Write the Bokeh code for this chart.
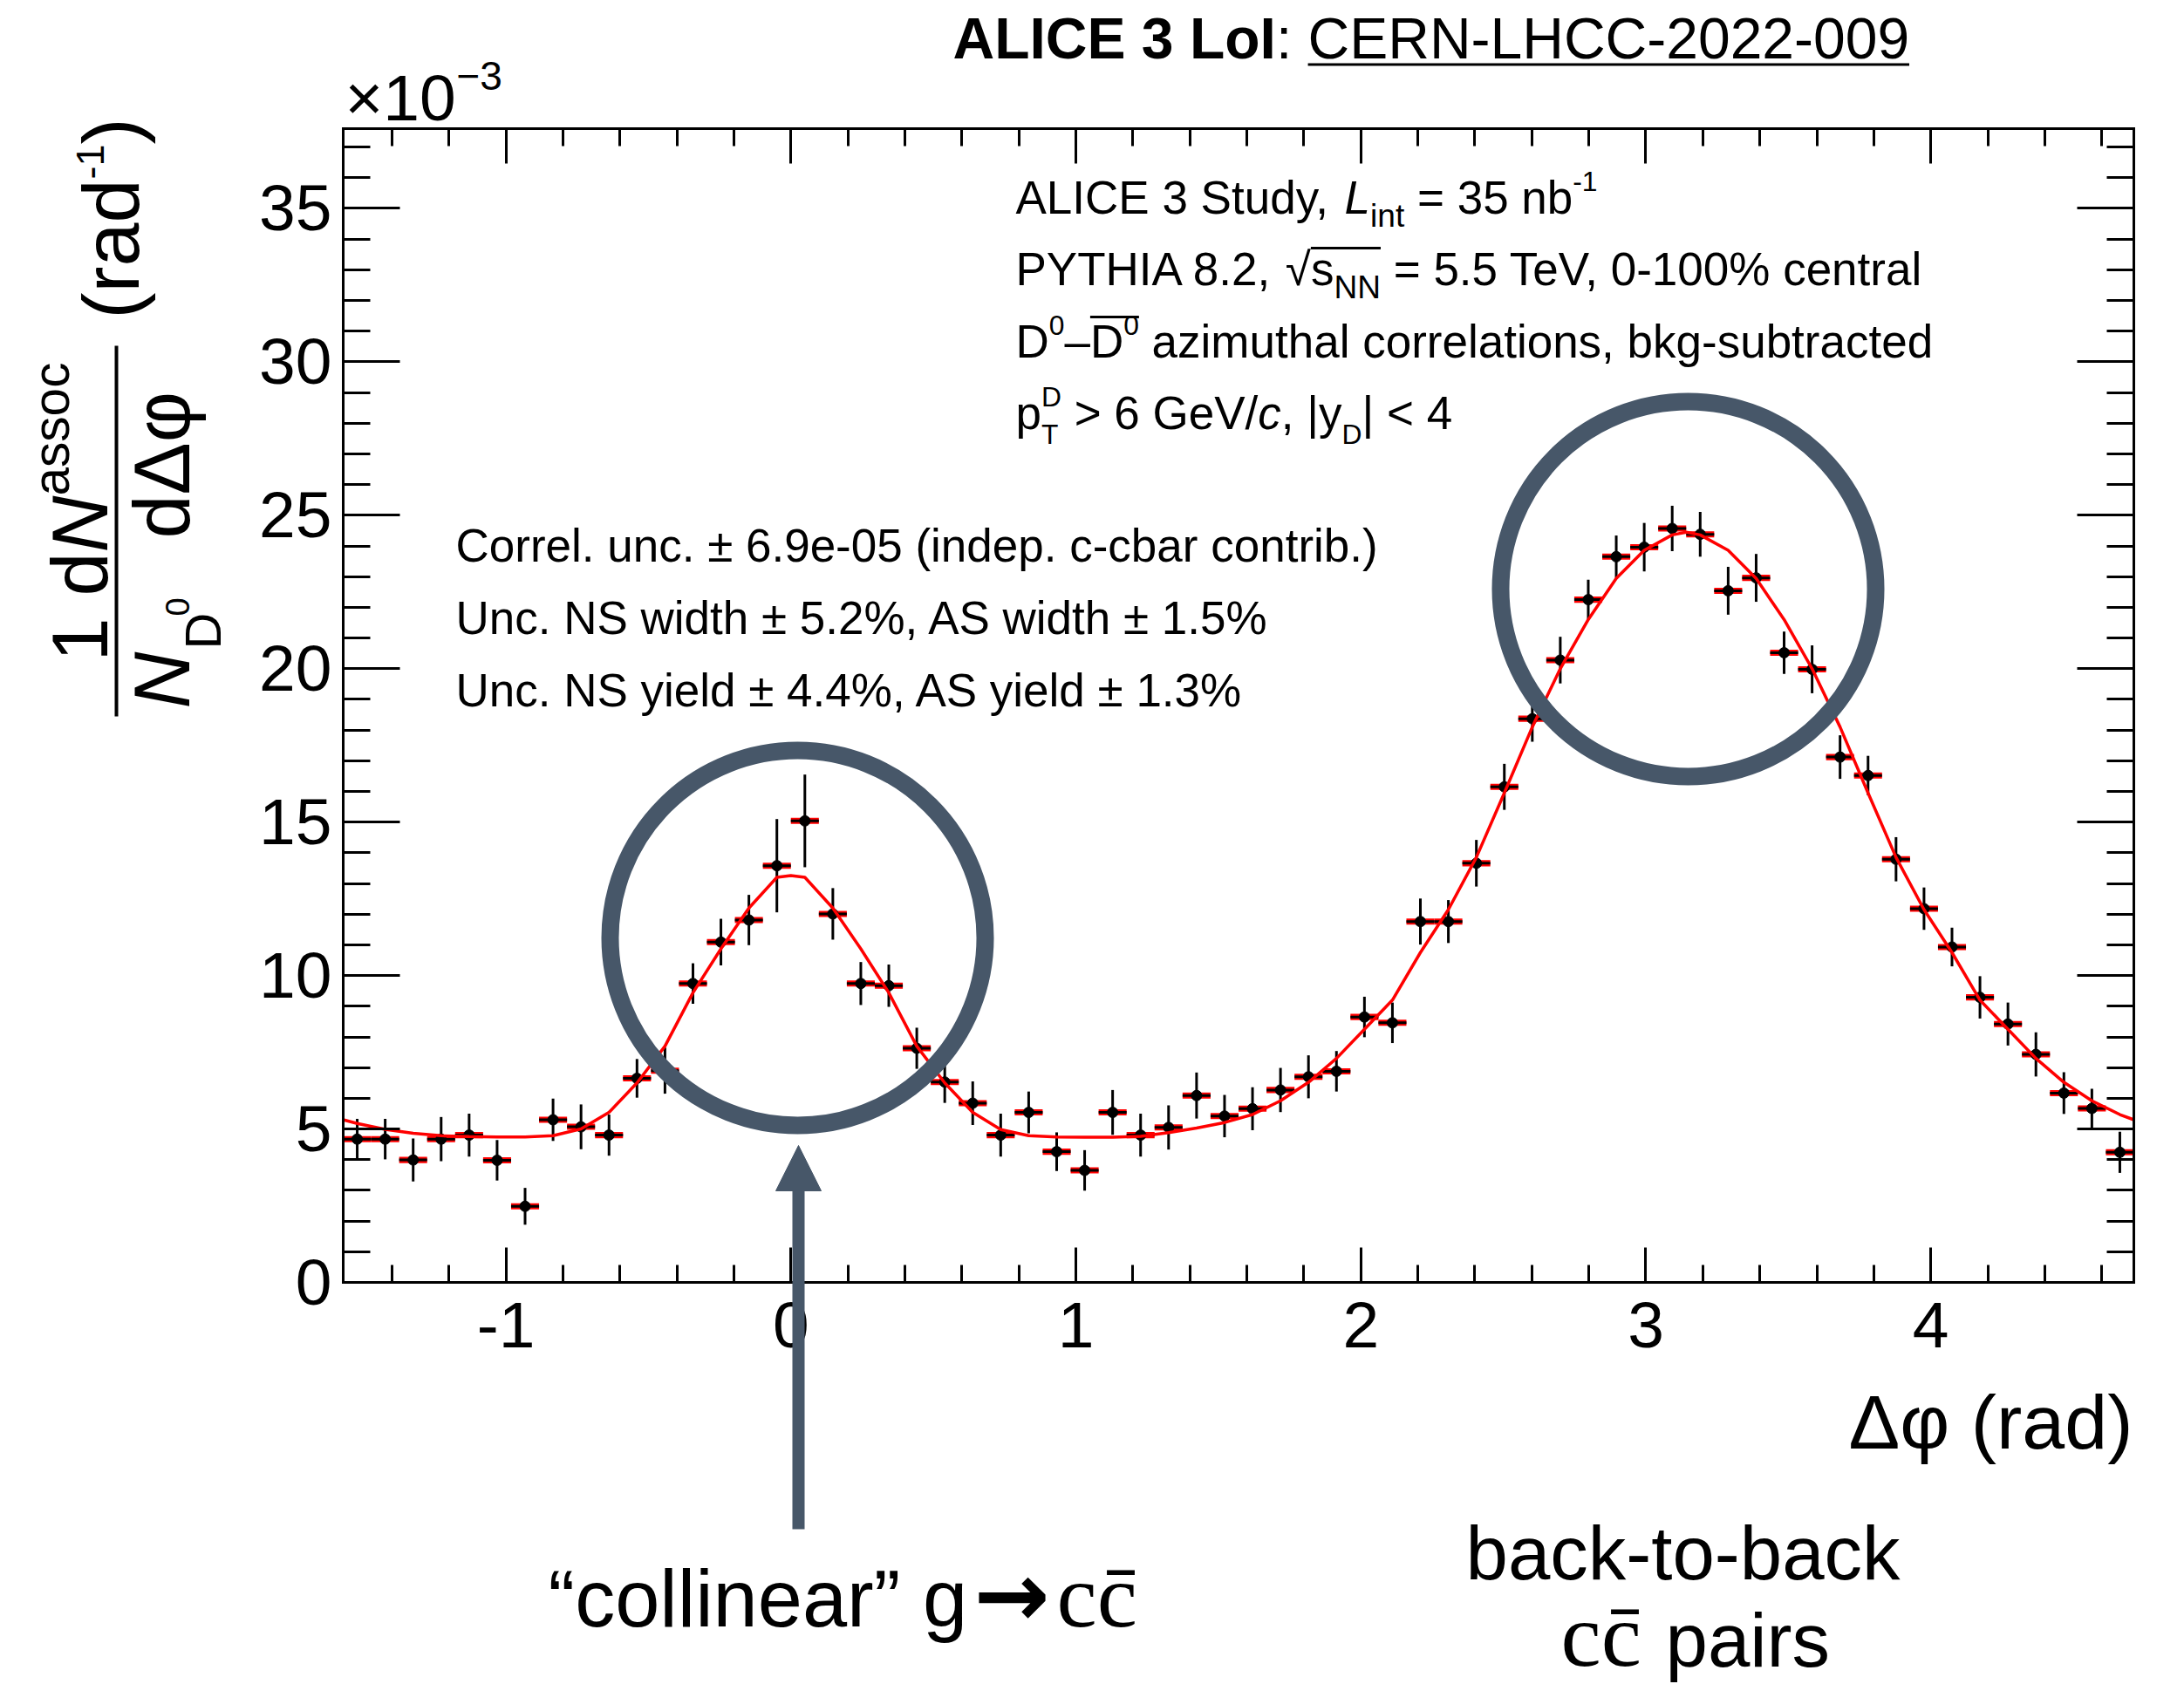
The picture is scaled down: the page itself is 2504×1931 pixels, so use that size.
import numpy as np
from bokeh.plotting import figure
from bokeh.models import (Range1d, LinearAxis, FixedTicker, Label, Arrow,
                          NormalHead, BoxAnnotation)
from bokeh.embed import file_html
from bokeh.resources import INLINE

# ---------------- data ----------------
n_bins = 64
phi_lo, phi_hi = -np.pi / 2, 3 * np.pi / 2
y_top = 37.6

corr_vals = [4.67, 4.67, 3.99, 4.67, 4.80, 3.98, 2.48, 5.30, 5.07, 4.80,
             6.65, 6.90, 9.74, 11.09, 11.81, 13.58, 15.04, 12.01, 9.74, 9.67,
             7.63, 6.53, 5.84, 4.80, 5.54, 4.26, 3.65, 5.54, 4.80, 5.05,
             6.09, 5.42, 5.66, 6.27, 6.70, 6.88, 8.65, 8.46, 11.76, 11.76,
             13.66, 16.15, 18.37, 20.28, 22.25, 23.65, 23.96, 24.57, 24.38, 22.54,
             22.96, 20.52, 19.98, 17.12, 16.52, 13.79, 12.18, 10.93, 9.29, 8.42,
             7.43, 6.17, 5.67, 4.24]
corr_errs = [0.66, 0.66, 0.70, 0.72, 0.70, 0.66, 0.60, 0.69, 0.73, 0.67,
             0.63, 0.75, 0.66, 0.76, 0.82, 1.52, 1.51, 0.84, 0.70, 0.69,
             0.67, 0.68, 0.71, 0.70, 0.68, 0.63, 0.66, 0.73, 0.70, 0.72,
             0.75, 0.69, 0.70, 0.72, 0.70, 0.66, 0.66, 0.66, 0.75, 0.70,
             0.76, 0.75, 0.75, 0.76, 0.65, 0.69, 0.79, 0.74, 0.73, 0.78,
             0.78, 0.69, 0.78, 0.71, 0.64, 0.72, 0.69, 0.63, 0.69, 0.70,
             0.72, 0.68, 0.64, 0.67]
syst_half = 0.10   # drawn half-height of the red correlated-uncertainty boxes

fit_at_centers = [5.18, 4.99, 4.86, 4.78, 4.75, 4.74, 4.74, 4.78, 5.00, 5.54,
                  6.50, 7.70, 9.44, 10.87, 12.20, 13.20, 13.20, 12.20, 10.87, 9.44,
                  7.70, 6.50, 5.54, 4.98, 4.78, 4.74, 4.73, 4.73, 4.76, 4.88,
                  5.03, 5.21, 5.47, 5.92, 6.52, 7.30, 8.25, 9.20, 10.75, 12.15,
                  13.85, 15.95, 18.10, 20.00, 21.60, 22.94, 23.86, 24.36, 24.36, 23.86,
                  22.94, 21.60, 20.00, 18.10, 15.95, 13.85, 12.15, 10.75, 9.20, 8.25,
                  7.30, 6.52, 5.92, 5.47]
fit_extra_x = [-np.pi / 2, 0.0, np.pi, 3 * np.pi / 2]
fit_extra_y = [5.30, 13.26, 24.45, 5.30]

x_ticks = [-1, 0, 1, 2, 3, 4]
x_tick_labels = ["-1", "0", "1", "2", "3", "4"]
y_ticks = [0, 5, 10, 15, 20, 25, 30, 35]
y_tick_labels = ["0", "5", "10", "15", "20", "25", "30", "35"]

# ---------------- derived arrays ----------------
edges = np.linspace(phi_lo, phi_hi, n_bins + 1)
centers = 0.5 * (edges[:-1] + edges[1:])
vals = np.array(corr_vals)
errs = np.array(corr_errs)
fx = np.concatenate([centers, fit_extra_x])
fy = np.concatenate([fit_at_centers, fit_extra_y])
order = np.argsort(fx)
fx, fy = fx[order], fy[order]

# ---------------- canvas geometry ----------------
CW, CH = 2504, 1931
FL, FR, FT, FB = 393, 2446, 147, 1470          # ROOT frame in canvas pixels
SANS = "Liberation Sans"
SERIF = "Liberation Serif"
SLATE = "#475769"

# the Bokeh frame fills the canvas; the ROOT frame is drawn with fixed axes
dx = (phi_hi - phi_lo) / (FR - FL)
dy = y_top / (FB - FT)
x_view = (phi_lo - FL * dx, phi_lo + (CW - FL) * dx)
y_view = (-(CH - FB) * dy, FB * dy)

p = figure(width=CW, height=CH, x_range=Range1d(*x_view),
           y_range=Range1d(*y_view), output_backend="svg",
           toolbar_location=None, x_axis_location=None, y_axis_location=None,
           min_border=0)
p.title = None
p.background_fill_color = "white"
p.border_fill_color = "white"
p.outline_line_color = None
p.grid.visible = False

x_minor = [round(v, 2) for v in np.arange(-1.4, 4.7, 0.2)]
y_minor = list(range(0, 38))


def make_axis(loc, bounds, ticks, minor, labels, tin, tmin, standoff, show):
    ax = LinearAxis(fixed_location=loc, bounds=bounds)
    ax.ticker = FixedTicker(ticks=ticks, minor_ticks=minor)
    ax.axis_line_width = 3
    ax.axis_line_cap = "square"
    ax.major_tick_line_width = 3
    ax.minor_tick_line_width = 3
    ax.major_tick_out = 0
    ax.minor_tick_out = 0
    ax.major_tick_in = tin
    ax.minor_tick_in = tmin
    ax.major_label_standoff = standoff
    ax.major_label_text_font = SANS
    ax.major_label_text_font_size = "75px"
    ax.major_label_text_color = "black"
    if show:
        ax.major_label_overrides = {t: l for t, l in zip(ticks, labels)}
    else:
        ax.major_label_overrides = {t: "" for t in ticks}
    return ax


p.add_layout(make_axis(0.0, (phi_lo, phi_hi), x_ticks, x_minor, x_tick_labels,
                       40, 20, 23, True), "below")
p.add_layout(make_axis(y_top, (phi_lo, phi_hi), x_ticks, x_minor, x_tick_labels,
                       40, 20, 5, False), "above")
p.add_layout(make_axis(phi_lo, (0.0, y_top), y_ticks, y_minor, y_tick_labels,
                       65, 31, 13, True), "left")
p.add_layout(make_axis(phi_hi, (0.0, y_top), y_ticks, y_minor, y_tick_labels,
                       65, 31, 5, False), "right")

# ---------------- data marks ----------------
p.quad(left=edges[:-1], right=edges[1:], bottom=vals - syst_half,
       top=vals + syst_half, fill_color="#ff0000", line_color=None)
p.segment(x0=edges[:-1], x1=edges[1:], y0=vals, y1=vals,
          line_color="black", line_width=3)
p.segment(x0=centers, x1=centers, y0=vals - errs, y1=vals + errs,
          line_color="black", line_width=3)
p.scatter(x=centers, y=vals, size=12, marker="circle", fill_color="black",
          line_color="black")
p.line(fx, fy, line_color="#ff0000", line_width=3.5)


# ---------------- helpers (canvas pixel -> data) ----------------
def px_x(px):
    return phi_lo + (px - FL) * dx


def px_y(py):
    return (FB - py) * dy


WID = {' ': 278, '!': 278, '%': 889, '(': 333, ')': 333, ',': 278, '-': 333,
       '.': 278, '/': 278, ':': 278, '<': 584, '=': 584, '>': 584, '|': 260,
       '±': 549, '×': 584, '–': 556, '−': 584, 'Δ': 668, 'φ': 650, '√': 549,
       '→': 1000, '“': 333, '”': 333,
       'A': 667, 'B': 667, 'C': 722, 'D': 722, 'E': 667, 'F': 611, 'G': 778,
       'H': 722, 'I': 278, 'L': 556, 'N': 722, 'O': 778, 'P': 667, 'R': 722,
       'S': 667, 'T': 611, 'U': 722, 'V': 667, 'Y': 667,
       'a': 556, 'b': 556, 'c': 500, 'd': 556, 'e': 556, 'f': 278, 'g': 556,
       'h': 556, 'i': 222, 'k': 500, 'l': 222, 'm': 833, 'n': 556, 'o': 556,
       'p': 556, 'r': 333, 's': 500, 't': 278, 'u': 556, 'v': 500, 'w': 722,
       'y': 500, 'z': 500}
for ch in "0123456789":
    WID[ch] = 556
BOLD = {'A': 722, 'L': 611, 'I': 278, 'C': 722, 'E': 667, ' ': 278, '3': 556,
        'o': 611}
K_MID = 0.35   # distance baseline -> visual middle, in em


def tw(s, size, table=WID):
    return sum(table.get(ch, 556) for ch in s) * size / 1000.0


def put(text, px, py, size, style="normal", font=SANS, angle=0.0,
        align="left", color="black"):
    """px, py: start of the baseline in canvas pixels (top-left origin)."""
    lead = len(text) - len(text.lstrip(" "))
    txt = text.strip(" ")
    off = tw(" " * lead, size) if align == "left" else 0.0
    if angle == 0.0:
        ax, ay = px + off, py - K_MID * size
    else:
        ax, ay = px - K_MID * size, py - off
    p.add_layout(Label(x=px_x(ax), y=px_y(ay), text=txt, text_font=font,
                       text_font_size=f"{size:.1f}px", text_font_style=style,
                       text_color=color, angle=angle, text_align=align,
                       text_baseline="middle"))


def rich(px, py, size, segs, angle=0.0):
    """segs: (text, scale, shift_em, style[, advance]); returns abs spans."""
    cur = 0.0
    spans = []
    for seg in segs:
        text, sc, shift, style = seg[:4]
        adv = seg[4] if len(seg) > 4 else True
        s = size * sc
        if angle == 0.0:
            put(text, px + cur, py - shift * size, s, style=style)
        else:
            put(text, px - shift * size, py - cur, s, style=style, angle=angle)
        w = tw(text, s)
        spans.append((cur, cur + w))
        if adv:
            cur += w
    return spans


def box(x0, x1, y0, y1):
    p.add_layout(BoxAnnotation(left=px_x(x0), right=px_x(x1), top=px_y(y0),
                               bottom=px_y(y1), fill_color="black",
                               fill_alpha=1.0, line_alpha=0.0))


# ---------------- title ----------------
TF = 66
tx, tb = 1092, 67
put("ALICE 3 LoI", tx, tb, TF, style="bold")
w_bold = tw("ALICE 3 LoI", TF, BOLD)
put(":", tx + w_bold, tb, TF)
x_ref = tx + w_bold + tw(": ", TF)
put("CERN-LHCC-2022-009", x_ref, tb, TF)
box(x_ref, x_ref + tw("CERN-LHCC-2022-009", TF), tb + 5, tb + 8)

# ---------------- x10^-3 ----------------
put("×10", 395, 138, 75)
put("−3", 523, 103, 46)

# ---------------- axis titles ----------------
put("Δφ (rad)", 2445, 1661, 88, align="right")

A90 = np.pi / 2
YF = 90
rich(123, 758, YF, [("1 d", 1, 0, "normal"), ("N", 1, 0, "italic"),
                    ("assoc", 0.65, 0.5, "normal")], angle=A90)
box(131, 135, 396, 821)
put("N", 217, 812, YF, style="italic", angle=A90)
put("D", 252, 744, 58, angle=A90)
put("0", 216, 706, 38, angle=A90)
put("dΔφ", 217, 617, YF, angle=A90)
rich(159, 365, YF, [("(rad", 1, 0, "normal"), ("-1", 0.5, 0.45, "normal"),
                    (")", 1, 0, "normal")], angle=A90)

# ---------------- info block (top right) ----------------
IF = 53
ix = 1164
rich(ix, 245, IF, [("ALICE 3 Study, ", 1, 0, "normal"), ("L", 1, 0, "italic"),
                   ("int", 0.7, -0.28, "normal"), (" = 35 nb", 1, 0, "normal"),
                   ("-1", 0.6, 0.5, "normal")])
sp = rich(ix, 327, IF, [("PYTHIA 8.2, ", 1, 0, "normal"), ("√", 1, 0, "normal"),
                        ("s", 1, 0, "normal"), ("NN", 0.7, -0.28, "normal"),
                        (" = 5.5 TeV, 0-100% central", 1, 0, "normal")])
box(ix + sp[2][0], ix + sp[3][1], 327 - 0.80 * IF - 2, 327 - 0.80 * IF + 1)
sp = rich(ix, 410, IF, [("D", 1, 0, "normal"), ("0", 0.6, 0.5, "normal"),
                        ("–", 1, 0, "normal"), ("D", 1, 0, "normal"),
                        ("0", 0.6, 0.5, "normal"),
                        (" azimuthal correlations, bkg-subtracted", 1, 0, "normal")])
box(ix + sp[3][0], ix + sp[4][1], 410 - 0.86 * IF - 3, 410 - 0.86 * IF)
rich(ix, 492, IF, [("p", 1, 0, "normal"), ("T", 0.6, -0.32, "normal", False),
                   ("D", 0.6, 0.5, "normal"), (" > 6 GeV/", 1, 0, "normal"),
                   ("c", 1, 0, "italic"), (", |y", 1, 0, "normal"),
                   ("D", 0.6, -0.32, "normal"), ("| < 4", 1, 0, "normal")])

# ---------------- uncertainty block ----------------
ux = 522
put("Correl. unc. ± 6.9e-05 (indep. c-cbar contrib.)", ux, 644, IF)
put("Unc. NS width ± 5.2%, AS width ± 1.5%", ux, 727, IF)
put("Unc. NS yield ± 4.4%, AS yield ± 1.3%", ux, 810, IF)

# ---------------- highlight circles and arrow ----------------
ring_px = [(914, 1075), (1935, 675)]
p.scatter(x=[px_x(a) for a, b in ring_px], y=[px_y(b) for a, b in ring_px],
          size=430, marker="circle", fill_alpha=0.0, line_color=SLATE,
          line_width=20)
p.add_layout(Arrow(end=NormalHead(size=52, fill_color=SLATE, line_color=SLATE,
                                  line_width=1),
                   x_start=px_x(915), y_start=px_y(1753), x_end=px_x(915),
                   y_end=px_y(1313), line_color=SLATE, line_width=14))

# ---------------- bottom annotations ----------------
put("“collinear” g", 628, 1865, 92)
put("→", 1116, 1865, 104, font="DejaVu Sans", style="bold")
put("cc\u0304", 1211, 1865, 104, font=SERIF)
put("back-to-back", 1680, 1810, 87)
put("cc\u0304", 1789, 1910, 104, font=SERIF)
put("pairs", 1909, 1910, 87)

open("out.html", "w").write(file_html(p, INLINE))
